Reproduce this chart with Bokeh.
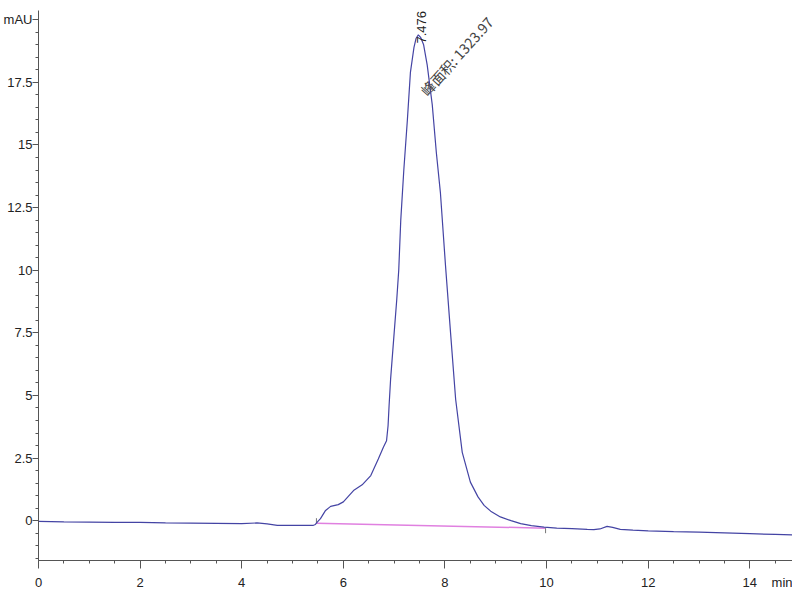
import math
from bokeh.plotting import figure
from bokeh.models import Range1d, FixedTicker, Label
from bokeh.embed import file_html
from bokeh.resources import INLINE

# chromatogram trace (time in min, signal in mAU)
time_min = [0, 0.5, 1.0, 1.5, 2.0, 2.5, 3.0, 3.5, 4.0, 4.3, 4.5, 4.7, 5.0,
            5.4, 5.45, 5.49, 5.55, 5.65, 5.75, 5.9, 6.0, 6.2, 6.37, 6.54,
            6.69, 6.79, 6.85, 6.88, 6.9, 6.93, 7.0, 7.05, 7.09, 7.13, 7.19,
            7.26, 7.32, 7.39, 7.43, 7.476, 7.52, 7.58, 7.65, 7.75, 7.83,
            7.91, 8.01, 8.11, 8.21, 8.34, 8.5, 8.65, 8.77, 8.9, 9.09, 9.3,
            9.49, 9.7, 9.95, 10.2, 10.5, 10.8, 10.93, 11.05, 11.19, 11.3,
            11.45, 11.7, 12.0, 12.5, 13.0, 13.5, 14.0, 14.5, 15.0]
signal_mau = [-0.03, -0.05, -0.06, -0.07, -0.07, -0.09, -0.10, -0.11, -0.12,
              -0.09, -0.13, -0.19, -0.19, -0.19, -0.15, -0.05, 0.08, 0.41,
              0.57, 0.64, 0.75, 1.2, 1.43, 1.8, 2.47, 2.94, 3.19, 3.79, 4.59,
              5.65, 7.5, 8.8, 10.0, 12.0, 14.0, 16.0, 17.9, 18.9, 19.25,
              19.4, 19.3, 19.0, 18.2, 16.6, 14.7, 13.1, 10.2, 7.5, 4.85,
              2.73, 1.54, 0.95, 0.61, 0.38, 0.15, 0.0, -0.12, -0.2, -0.26,
              -0.3, -0.32, -0.35, -0.36, -0.33, -0.23, -0.27, -0.35, -0.38,
              -0.41, -0.44, -0.46, -0.49, -0.52, -0.55, -0.58]

# integration baseline of the main peak
base_x = [5.47, 9.98]
base_y = [-0.10, -0.30]

peak_rt = 7.476
peak_area = 1323.97

x_ticks = [0, 2, 4, 6, 8, 10, 12, 14, 14.84]
x_labels = {14.84: "min"}
y_ticks = [0, 2.5, 5, 7.5, 10, 12.5, 15, 17.5, 20]
y_labels = {0: "0", 2.5: "2.5", 5: "5", 7.5: "7.5", 10: "10", 12.5: "12.5",
            15: "15", 17.5: "17.5", 20: "mAU"}

p = figure(width=792, height=592, x_range=Range1d(0, 14.84),
           y_range=Range1d(-1.59, 20.37), output_backend="svg",
           toolbar_location=None, min_border_left=38, min_border_right=0,
           min_border_top=10, min_border_bottom=30)
p.outline_line_color = None
p.xgrid.visible = False
p.ygrid.visible = False

p.xaxis.ticker = FixedTicker(ticks=x_ticks,
                             minor_ticks=[i * 0.5 for i in range(0, 30)])
p.xaxis.major_label_overrides = x_labels
p.yaxis.ticker = FixedTicker(ticks=y_ticks,
                             minor_ticks=[-1.5 + i * 0.5 for i in range(0, 44)])
p.yaxis.major_label_overrides = y_labels

for ax in (p.xaxis, p.yaxis):
    ax.axis_line_color = "#555555"
    ax.major_tick_line_color = "#555555"
    ax.minor_tick_line_color = "#555555"
    ax.major_tick_in = 0
    ax.minor_tick_in = 0
    ax.minor_tick_out = 3
    ax.major_label_text_font = "Liberation Sans"
    ax.major_label_text_font_size = "13px"
    ax.major_label_text_color = "#222222"
p.yaxis.major_tick_out = 6
p.yaxis.major_label_standoff = 0
p.xaxis.major_tick_out = 8
p.xaxis.major_label_standoff = 6

p.line(base_x, base_y, line_color="#e080e0", line_width=1.5)
p.segment(x0=base_x, y0=base_y, x1=base_x,
          y1=[b + 0.2 * s for b, s in zip(base_y, [1, -1])],
          line_color="#777777", line_width=1)
p.line(time_min, signal_mau, line_color="#4444a4", line_width=1.2)

p.add_layout(Label(x=peak_rt, y=19.05, text="%.3f" % peak_rt,
                   angle=math.pi / 2, text_align="left", text_baseline="middle",
                   text_font="Liberation Sans", text_font_size="13px",
                   text_color="#222222", x_offset=3))
p.add_layout(Label(x=7.72, y=16.8, text="峰面积: %.2f" % peak_area,
                   angle=math.radians(48), text_align="left",
                   text_baseline="bottom", text_font="Noto Sans CJK SC",
                   text_font_size="14px", text_color="#444444"))

open("out.html", "w").write(file_html(p, INLINE))
